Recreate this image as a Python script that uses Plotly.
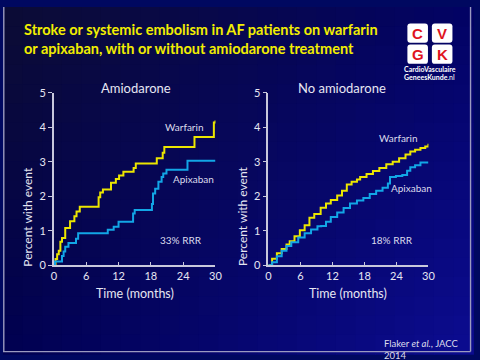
import plotly.graph_objects as go

# ---------------- data ----------------
amio_warf_t = [0, 0.3, 0.6, 0.9, 1.2, 1.5, 2.1, 3.0, 3.8, 4.2, 4.8, 8.3, 8.6, 9.1, 10.6, 11.5, 12.1, 12.9, 14.8, 15.2, 19.1, 20.2, 20.5, 26.1, 29.7, 30.0]
amio_warf_v = [0, 0.18, 0.32, 0.42, 0.68, 0.79, 1.08, 1.28, 1.42, 1.56, 1.70, 1.97, 2.11, 2.20, 2.39, 2.50, 2.60, 2.71, 2.82, 2.95, 3.10, 3.26, 3.43, 3.72, 4.14, 4.20]

amio_apix_t = [0, 0.2, 1.5, 1.8, 2.1, 2.7, 4.1, 4.5, 10.0, 11.1, 12.0, 14.7, 15.0, 18.2, 18.4, 18.8, 19.4, 20.0, 20.3, 20.9, 24.8, 30.0]
amio_apix_v = [0, 0.11, 0.27, 0.40, 0.54, 0.65, 0.77, 0.93, 1.03, 1.12, 1.26, 1.50, 1.60, 1.78, 2.08, 2.22, 2.42, 2.56, 2.66, 2.77, 3.03, 3.03]

noamio_warf_t = [0, 0.7, 1.6, 2.5, 3.4, 4.0, 4.9, 5.9, 6.8, 7.7, 8.6, 9.8, 10.8, 11.7, 12.9, 13.8, 14.7, 15.6, 16.6, 17.2, 18.4, 19.6, 20.8, 22.1, 23.3, 24.5, 25.7, 26.6, 27.5, 28.5, 29.4, 30.0]
noamio_warf_v = [0, 0.19, 0.35, 0.47, 0.60, 0.70, 0.84, 1.02, 1.16, 1.38, 1.49, 1.67, 1.79, 1.89, 2.02, 2.16, 2.34, 2.42, 2.49, 2.56, 2.65, 2.73, 2.82, 2.93, 3.00, 3.10, 3.21, 3.30, 3.35, 3.40, 3.44, 3.52]

noamio_apix_t = [0, 0.7, 1.6, 2.5, 3.4, 4.3, 5.6, 6.8, 8.0, 9.2, 9.9, 10.8, 11.7, 12.9, 14.1, 15.3, 16.6, 17.8, 19.0, 20.2, 21.4, 22.4, 22.8, 23.9, 25.1, 26.0, 26.6, 27.5, 28.5, 30.0]
noamio_apix_v = [0, 0.09, 0.26, 0.42, 0.56, 0.67, 0.81, 0.93, 1.04, 1.13, 1.14, 1.26, 1.40, 1.53, 1.66, 1.79, 1.88, 1.95, 2.07, 2.16, 2.25, 2.37, 2.56, 2.59, 2.62, 2.74, 2.84, 2.90, 2.98, 2.98]

x_ticks = [0, 6, 12, 18, 24, 30]
y_ticks = [0, 1, 2, 3, 4, 5]
panel_titles = ["Amiodarone", "No amiodarone"]
rrr_labels = ["33% RRR", "18% RRR"]
title_lines = ["Stroke or systemic embolism in AF patients on warfarin",
               "or apixaban, with or without amiodarone treatment"]

# ---------------- style ----------------
W, H = 480, 360
FONT = "Lato"
YELLOW = "#ece600"
BLUE = "#12a6e6"
AXIS = "#c8c8dc"
TXT = "#e6e6f2"


def px(x):
    return x / W


def py(y):
    return 1 - y / H


fig = go.Figure()

series = [
    (amio_warf_t, amio_warf_v, YELLOW, "x", "y", "Warfarin"),
    (amio_apix_t, amio_apix_v, BLUE, "x", "y", "Apixaban"),
    (noamio_warf_t, noamio_warf_v, YELLOW, "x2", "y2", "Warfarin"),
    (noamio_apix_t, noamio_apix_v, BLUE, "x2", "y2", "Apixaban"),
]
for t, v, c, xa, ya, nm in series:
    fig.add_trace(go.Scatter(x=t, y=v, mode="lines", line=dict(color=c, width=2, shape="hv"),
                             xaxis=xa, yaxis=ya, name=nm, showlegend=False, hoverinfo="skip"))

# ---------------- background gradient ----------------
TL, TR, BL, BR = (12, 12, 52), (2, 2, 100), (0, 0, 80), (12, 12, 145)
NX, NY = 24, 18
shapes = []
for i in range(NX):
    for j in range(NY):
        fx = (i + 0.5) / NX
        fy = (j + 0.5) / NY
        col = [round(TL[k] * (1 - fx) * (1 - fy) + TR[k] * fx * (1 - fy) + BL[k] * (1 - fx) * fy + BR[k] * fx * fy) for k in range(3)]
        shapes.append(dict(type="rect", xref="paper", yref="paper", layer="below",
                           x0=i / NX, x1=(i + 1) / NX + 0.002, y0=1 - (j + 1) / NY - 0.002, y1=1 - j / NY,
                           line=dict(width=0), fillcolor="rgb(%d,%d,%d)" % tuple(col)))

# frame lines
for (x0, y0, x1, y1) in [(0.8, 0, 0.8, 357.5), (477.5, 0, 477.5, 357.5), (0, 357.5, 477.5, 357.5)]:
    shapes.append(dict(type="line", xref="paper", yref="paper", x0=px(x0), x1=px(x1), y0=py(y0), y1=py(y1),
                       line=dict(color="#9a9ac0", width=1.4)))


# logo squares (rounded)
def rrect(x0, y0, x1, y1, r=3):
    pts = (f"M {px(x0 + r)},{py(y0)} L {px(x1 - r)},{py(y0)} Q {px(x1)},{py(y0)} {px(x1)},{py(y0 + r)} "
           f"L {px(x1)},{py(y1 - r)} Q {px(x1)},{py(y1)} {px(x1 - r)},{py(y1)} "
           f"L {px(x0 + r)},{py(y1)} Q {px(x0)},{py(y1)} {px(x0)},{py(y1 - r)} "
           f"L {px(x0)},{py(y0 + r)} Q {px(x0)},{py(y0)} {px(x0 + r)},{py(y0)} Z")
    return dict(type="path", xref="paper", yref="paper", path=pts, fillcolor="white", line=dict(width=0))


logo_boxes = [(413, 17, 434, 37, "C"), (438, 17, 459, 37, "V"), (413, 39, 434, 59, "G"), (438, 39, 459, 59, "K")]
for x0, y0, x1, y1, _ in logo_boxes:
    shapes.append(rrect(x0, y0, x1, y1))

ann = []
for x0, y0, x1, y1, letter in logo_boxes:
    ann.append(dict(text="<b>%s</b>" % letter, x=px((x0 + x1) / 2), y=py((y0 + y1) / 2 + 0.5), xref="paper", yref="paper",
                    showarrow=False, font=dict(family="Liberation Sans", size=15, color="#e0141e"),
                    xanchor="center", yanchor="middle"))
ann.append(dict(text="<b>CardioVasculaire</b>", x=px(436), y=py(64), xref="paper", yref="paper", showarrow=False,
                font=dict(family=FONT, size=7, color="white"), xanchor="center", yanchor="middle"))
ann.append(dict(text="<b>GeneesKunde</b>.nl", x=px(436), y=py(73), xref="paper", yref="paper", showarrow=False,
                font=dict(family=FONT, size=7, color="white"), xanchor="center", yanchor="middle"))

# title
for k, line in enumerate(title_lines):
    ann.append(dict(text="<b>%s</b>" % line, x=px(19), y=py(23 + k * 20), xref="paper", yref="paper", showarrow=False,
                    font=dict(family=FONT, size=14.5, color="#f2ee00"), xanchor="left", yanchor="middle"))

# panels
panels = [(52, 217), (271, 434.5)]
for p, (l, r) in enumerate(panels):
    cx = (l + r) / 2
    ann.append(dict(text=panel_titles[p], x=px([136, 346][p]), y=py(84), xref="paper", yref="paper", showarrow=False,
                    font=dict(family=FONT, size=13, color=TXT), xanchor="center", yanchor="middle"))
    ann.append(dict(text="Time (months)", x=px(cx), y=py(297), xref="paper", yref="paper", showarrow=False,
                    font=dict(family=FONT, size=12.5, color=TXT), xanchor="center", yanchor="middle"))
    ann.append(dict(text="Percent with event", x=px(l - 27), y=py(217), xref="paper", yref="paper", showarrow=False,
                    textangle=-90, font=dict(family=FONT, size=12, color=TXT), xanchor="center", yanchor="middle"))

lbl = [("Warfarin", 185, 124), ("Apixaban", 195, 178), (rrr_labels[0], 182, 242),
       ("Warfarin", 403, 136), ("Apixaban", 417, 188), (rrr_labels[1], 397, 242)]
for txt, x, y in lbl:
    ann.append(dict(text=txt, x=px(x), y=py(y), xref="paper", yref="paper", showarrow=False,
                    font=dict(family=FONT, size=10, color="#dcdcec"), xanchor="center", yanchor="middle"))

ann.append(dict(text="Flaker <i>et al.</i>, JACC<br>2014", x=px(387), y=py(341), xref="paper", yref="paper",
                showarrow=False, align="left", font=dict(family=FONT, size=9.5, color="#dcdcec"),
                xanchor="left", yanchor="top"))

xax = dict(range=[0, 30], tickvals=x_ticks, ticks="inside", ticklen=4, tickwidth=1.2, tickcolor=AXIS,
           showline=True, linecolor=AXIS, linewidth=1.5, showgrid=False, zeroline=False,
           tickfont=dict(family=FONT, size=11, color=TXT), fixedrange=True)
yax = dict(range=[0, 5], tickvals=y_ticks, ticks="outside", ticklen=4, tickwidth=1.2, tickcolor=AXIS,
           showline=True, linecolor=AXIS, linewidth=1.5, showgrid=False, zeroline=False,
           tickfont=dict(family=FONT, size=11, color=TXT), fixedrange=True)
ydom = [py(268), py(89)]

fig.update_layout(
    width=W, height=H, autosize=False,
    margin=dict(l=0, r=0, t=0, b=0, pad=0),
    paper_bgcolor="#000860", plot_bgcolor="rgba(0,0,0,0)",
    showlegend=False,
    xaxis=dict(xax, domain=[px(52), px(217)], anchor="y"),
    yaxis=dict(yax, domain=ydom, anchor="x"),
    xaxis2=dict(xax, domain=[px(271), px(434.5)], anchor="y2"),
    yaxis2=dict(yax, domain=ydom, anchor="x2"),
    shapes=shapes,
    annotations=ann,
)

fig.write_html("out.html", config={"displayModeBar": False},
               post_script="document.body.style.margin='0';document.body.style.overflow='hidden';")
